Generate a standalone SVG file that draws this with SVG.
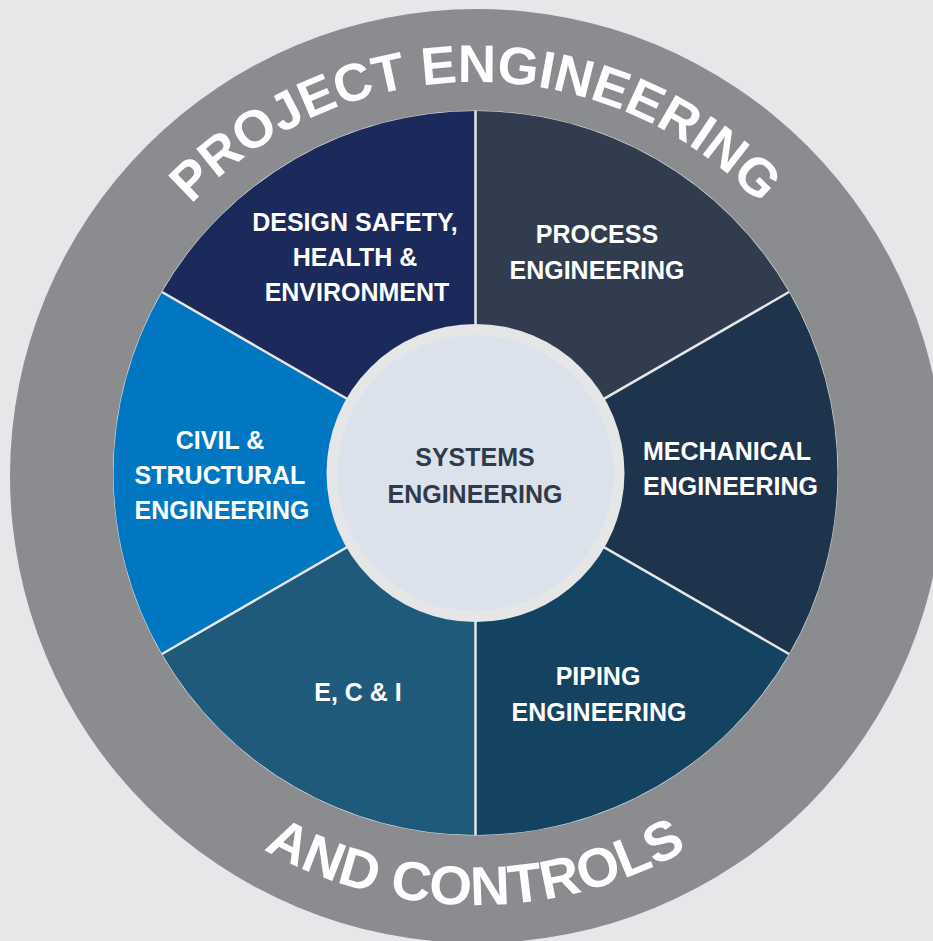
<svg xmlns="http://www.w3.org/2000/svg" width="933" height="941" viewBox="0 0 933 941">
  <defs>
    <style>
      .lbl { font-family: "Liberation Sans", Arial, sans-serif; font-weight: bold; font-size: 25px; fill: #ffffff; text-anchor: middle; }
      .arc { font-family: "Liberation Sans", Arial, sans-serif; font-weight: bold; fill: #ffffff; text-anchor: middle; }
      .ctr { font-family: "Liberation Sans", Arial, sans-serif; font-weight: bold; font-size: 25px; fill: #2f3b4c; text-anchor: middle; }
      .div { stroke: #e6e7e8; stroke-width: 2.5; }
    </style>
    <path id="topArc" d="M 84.5 473 A 391 391 0 0 1 866.5 473"/>
    <path id="botArc" d="M 43.5 473 A 432 432 0 0 0 907.5 473"/>
  </defs>
  <rect width="933" height="941" fill="#e6e7e8"/>
  <g id="outer-ring">
    <circle cx="477" cy="476" r="467" fill="#8a8c90"/>
    <text class="arc" font-size="53"><textPath href="#topArc" startOffset="50%">PROJECT ENGINEERING</textPath></text>
    <text class="arc" font-size="55"><textPath href="#botArc" startOffset="50%">AND CONTROLS</textPath></text>
  </g>
  <circle cx="475.5" cy="473" r="362.5" fill="#e3e5e6"/>
  <g id="process">
    <path d="M 475.5 473 L 475.5 111 A 362 362 0 0 1 789 292 Z" fill="#313d4e"/>
    <text class="lbl" x="597" y="243">PROCESS</text>
    <text class="lbl" x="597" y="279">ENGINEERING</text>
  </g>
  <g id="mechanical">
    <path d="M 475.5 473 L 789 292 A 362 362 0 0 1 789 654 Z" fill="#1e344d"/>
    <text class="lbl" x="643" y="460" style="text-anchor:start">MECHANICAL</text>
    <text class="lbl" x="643" y="495" style="text-anchor:start">ENGINEERING</text>
  </g>
  <g id="piping">
    <path d="M 475.5 473 L 789 654 A 362 362 0 0 1 475.5 835 Z" fill="#144261"/>
    <text class="lbl" x="598" y="685">PIPING</text>
    <text class="lbl" x="599" y="721">ENGINEERING</text>
  </g>
  <g id="eci">
    <path d="M 475.5 473 L 475.5 835 A 362 362 0 0 1 162 654 Z" fill="#1f5a7a"/>
    <text class="lbl" x="358" y="701">E, C &amp; I</text>
  </g>
  <g id="civil">
    <path d="M 475.5 473 L 162 654 A 362 362 0 0 1 162 292 Z" fill="#0077c0"/>
    <text class="lbl" x="220" y="449">CIVIL &amp;</text>
    <text class="lbl" x="220" y="484">STRUCTURAL</text>
    <text class="lbl" x="222" y="519">ENGINEERING</text>
  </g>
  <g id="design-safety">
    <path d="M 475.5 473 L 162 292 A 362 362 0 0 1 475.5 111 Z" fill="#1b2a5a"/>
    <text class="lbl" x="355" y="231">DESIGN SAFETY,</text>
    <text class="lbl" x="355" y="266">HEALTH &amp;</text>
    <text class="lbl" x="357" y="301">ENVIRONMENT</text>
  </g>
  <g id="dividers">
    <line class="div" x1="475.5" y1="473" x2="475.5" y2="111"/>
    <line class="div" x1="475.5" y1="473" x2="789" y2="292"/>
    <line class="div" x1="475.5" y1="473" x2="789" y2="654"/>
    <line class="div" x1="475.5" y1="473" x2="475.5" y2="835"/>
    <line class="div" x1="475.5" y1="473" x2="162" y2="654"/>
    <line class="div" x1="475.5" y1="473" x2="162" y2="292"/>
  </g>
  <g id="systems">
    <circle cx="475.5" cy="473" r="149" fill="#e5e6e7"/>
    <circle cx="475.5" cy="473" r="138" fill="#dce2ec"/>
    <text class="ctr" x="475" y="466">SYSTEMS</text>
    <text class="ctr" x="475" y="503">ENGINEERING</text>
  </g>
</svg>
